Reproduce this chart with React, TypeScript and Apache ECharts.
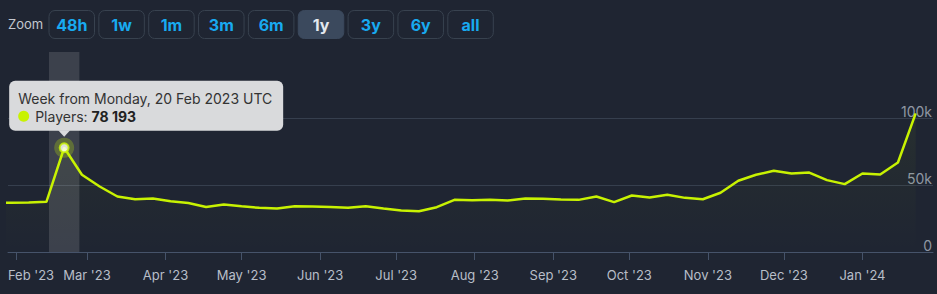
import React, { useEffect, useRef } from "react";
import * as echarts from "echarts";

// ---- data ----
const weeks = [
  "2023-01-23", "2023-01-30", "2023-02-06", "2023-02-13", "2023-02-20", "2023-02-27",
  "2023-03-06", "2023-03-13", "2023-03-20", "2023-03-27", "2023-04-03", "2023-04-10",
  "2023-04-17", "2023-04-24", "2023-05-01", "2023-05-08", "2023-05-15", "2023-05-22",
  "2023-05-29", "2023-06-05", "2023-06-12", "2023-06-19", "2023-06-26", "2023-07-03",
  "2023-07-10", "2023-07-17", "2023-07-24", "2023-07-31", "2023-08-07", "2023-08-14",
  "2023-08-21", "2023-08-28", "2023-09-04", "2023-09-11", "2023-09-18", "2023-09-25",
  "2023-10-02", "2023-10-09", "2023-10-16", "2023-10-23", "2023-10-30", "2023-11-06",
  "2023-11-13", "2023-11-20", "2023-11-27", "2023-12-04", "2023-12-11", "2023-12-18",
  "2023-12-25", "2024-01-01", "2024-01-08", "2024-01-15", "2024-01-22",
];
const players = [
  37000, 37000, 37100, 37600, 78193, 57900,
  49100, 41600, 39600, 40100, 38100, 36800,
  33800, 35600, 34300, 33100, 32600, 34300,
  34100, 33800, 33100, 34300, 32600, 31100,
  30600, 33600, 39100, 38900, 39100, 38600,
  40100, 39900, 39400, 39100, 41600, 37400,
  42400, 40900, 42900, 40600, 39600, 44400,
  53400, 57900, 60900, 58900, 59600, 53900,
  50900, 58900, 58100, 67100, 104000,
];
const seriesName = "Players";
const highlightWeek = "2023-02-20";
const rangeStart = "2023-01-28T20:00:00Z";
const rangeEnd = "2024-01-28T20:00:00Z";
const yTicks = [0, 50000, 100000, 150000];
const zoomButtons = ["48h", "1w", "1m", "3m", "6m", "1y", "3y", "6y", "all"];
const activeZoom = "1y";
const monthNames = ["Jan", "Feb", "Mar", "Apr", "May", "Jun", "Jul", "Aug", "Sep", "Oct", "Nov", "Dec"];
const dayNames = ["Sunday", "Monday", "Tuesday", "Wednesday", "Thursday", "Friday", "Saturday"];

// ---- styles ----
const FONT = "Inter, 'Noto Sans', sans-serif";
const BG = "#1f2532";
const LINE = "#c8f202";
const DAY = 86400000;

function ts(s: string) {
  const [y, m, d] = s.split("-").map(Number);
  return Date.UTC(y, m - 1, d);
}
function fmtNum(n: number) {
  return String(n).replace(/\B(?=(\d{3})+(?!\d))/g, " ");
}

export default function App() {
  const ref = useRef<HTMLDivElement>(null);

  useEffect(() => {
    if (!ref.current) return;
    const chart = echarts.init(ref.current, null, { renderer: "svg" });
    const data = weeks.map((w, i) => [ts(w), players[i]]);
    const hiIdx = weeks.indexOf(highlightWeek);
    const hiTs = ts(highlightWeek);
    const hiVal = players[hiIdx];
    const xMin = Date.parse(rangeStart);
    const xMax = Date.parse(rangeEnd);

    const buttons: any[] = [
      {
        type: "text",
        x: 8,
        y: 24,
        style: { text: "Zoom", fontFamily: FONT, fontSize: 13, fill: "#c3c8cf", verticalAlign: "middle" },
      },
    ];
    zoomButtons.forEach((b, i) => {
      const active = b === activeZoom;
      const x = 49 + i * 49.85;
      buttons.push({
        type: "rect",
        shape: { x, y: 10.5, width: 45.5, height: 28, r: 6 },
        style: { fill: active ? "#3b495d" : BG, stroke: active ? "#3b495d" : "#38424f", lineWidth: 1 },
      });
      buttons.push({
        type: "text",
        x: x + 22.75,
        y: 24.5,
        style: {
          text: b,
          fontFamily: FONT,
          fontSize: 16,
          fontWeight: "bold",
          fill: active ? "#e4e8ee" : "#18aaf0",
          align: "center",
          verticalAlign: "middle",
        },
      });
    });

    const option: any = {
      animation: false,
      useUTC: true,
      backgroundColor: BG,
      textStyle: { fontFamily: FONT },
      grid: { left: 8, right: 4, top: 52, bottom: 42 },
      xAxis: {
        type: "time",
        min: xMin,
        max: xMax,
        minInterval: 28 * DAY,
        maxInterval: 31 * DAY,
        axisLine: { show: true, lineStyle: { color: "#46536a", width: 1 } },
        axisTick: { show: true, length: 8, lineStyle: { color: "#46536a" } },
        splitLine: { show: false },
        axisLabel: {
          color: "#b8bec8",
          fontSize: 13,
          margin: 16,
          hideOverlap: false,
          formatter: (v: number) => {
            const d = new Date(v);
            const txt = `${monthNames[d.getUTCMonth()]} '${String(d.getUTCFullYear()).slice(2)}`;
            return v - xMin < 10 * DAY ? `{first|${txt}}` : `{n|${txt}}`;
          },
          rich: {
            first: { color: "#b8bec8", fontSize: 13, fontFamily: FONT, padding: [0, 0, 0, 30] },
            n: { color: "#b8bec8", fontSize: 13, fontFamily: FONT },
          },
        },
      },
      yAxis: {
        type: "value",
        position: "right",
        min: yTicks[0],
        max: yTicks[yTicks.length - 1],
        interval: yTicks[1] - yTicks[0],
        axisLine: { show: false },
        axisTick: { show: false },
        splitLine: { show: true, showMinLine: false, showMaxLine: false, lineStyle: { color: "#363f4e", width: 1 } },
        axisLabel: {
          inside: true,
          margin: 1,
          showMaxLabel: false,
          color: "#8f97a3",
          fontSize: 14,
          verticalAlign: "bottom",
          formatter: (v: number) => (v === 0 ? "0" : `${v / 1000}k`),
        },
      },
      series: [
        {
          type: "line",
          name: seriesName,
          data,
          showSymbol: false,
          symbol: "none",
          lineStyle: { color: LINE, width: 2.5 },
          itemStyle: { color: LINE },
          areaStyle: {
            color: new echarts.graphic.LinearGradient(0, 0, 0, 1, [
              { offset: 0, color: "rgba(200,242,2,0.07)" },
              { offset: 1, color: "rgba(200,242,2,0)" },
            ]),
          },
          markArea: {
            silent: true,
            itemStyle: { color: "rgba(255,255,255,0.13)" },
            data: [[{ xAxis: hiTs - 6 * DAY }, { xAxis: hiTs + 6 * DAY }]],
          },
          z: 3,
        },
        {
          type: "scatter",
          data: [[hiTs, hiVal]],
          symbolSize: 20,
          itemStyle: { color: "rgba(200,242,2,0.32)" },
          silent: true,
          z: 4,
        },
        {
          type: "scatter",
          data: [[hiTs, hiVal]],
          symbolSize: 9,
          itemStyle: { color: "#ffffff", borderColor: LINE, borderWidth: 2 },
          silent: true,
          z: 5,
        },
      ],
      graphic: buttons,
    };
    chart.setOption(option);

    const [px, py] = chart.convertToPixel({ seriesIndex: 0 }, [hiTs, hiVal]) as number[];
    const hd = new Date(hiTs);
    const title = `Week from ${dayNames[hd.getUTCDay()]}, ${hd.getUTCDate()} ${monthNames[hd.getUTCMonth()]} ${hd.getUTCFullYear()} UTC`;
    const bx = px - 55;
    const by = py - 67;
    const boxFill = "#d9dadc";
    const Z = 100;
    chart.setOption({
      graphic: [
        ...buttons,
        { type: "rect", z: Z, shape: { x: bx, y: by, width: 274, height: 50, r: 6 }, style: { fill: boxFill } },
        {
          type: "polygon",
          z: Z,
          shape: { points: [[px - 6, by + 49.5], [px + 6, by + 49.5], [px, by + 56]] },
          style: { fill: boxFill },
        },
        {
          type: "text",
          z: Z + 1,
          x: bx + 9,
          y: by + 18,
          style: { text: title, fontFamily: FONT, fontSize: 14, fill: "#333333", verticalAlign: "middle" },
        },
        { type: "circle", z: Z + 1, shape: { cx: bx + 14.5, cy: by + 35.5, r: 5.5 }, style: { fill: LINE } },
        {
          type: "text",
          z: Z + 1,
          x: bx + 26,
          y: by + 35.5,
          style: {
            text: `{a|${seriesName}: }{b|${fmtNum(hiVal)}}`,
            verticalAlign: "middle",
            rich: {
              a: { fontFamily: FONT, fontSize: 14, fill: "#333333" },
              b: { fontFamily: FONT, fontSize: 14, fontWeight: "bold", fill: "#222222" },
            },
          },
        },
      ],
    });

    return () => chart.dispose();
  }, []);

  return (
    <div
      ref={ref}
      style={{ position: "fixed", left: 0, top: 0, width: 937, height: 294 }}
    />
  );
}
